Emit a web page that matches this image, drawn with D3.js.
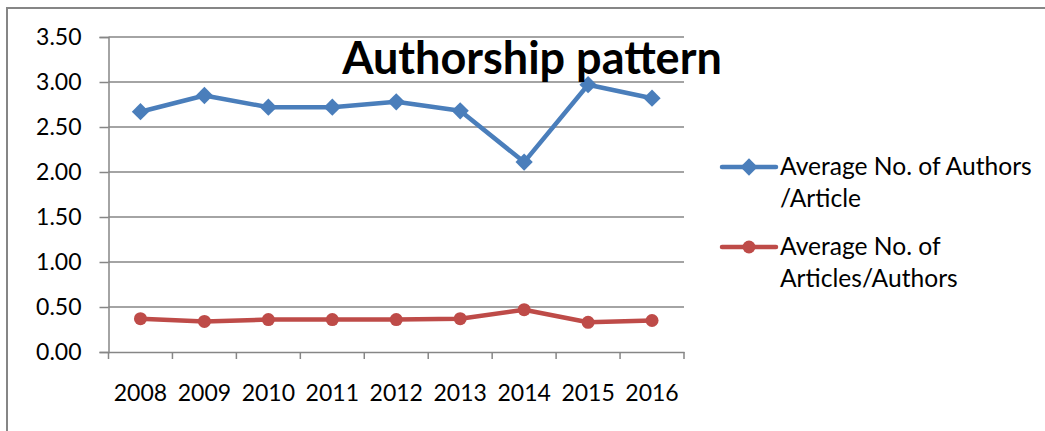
<!DOCTYPE html>
<html><head><meta charset="utf-8">
<script src="https://cdn.jsdelivr.net/npm/d3@7"></script>
<style>body{margin:0;background:#fff}svg{display:block}text{font-family:Lato,"Open Sans",sans-serif}</style>
</head><body>
<svg id="c" width="1045" height="431"></svg>
<script>
const years = ["2008","2009","2010","2011","2012","2013","2014","2015","2016"];
const authorsPerArticle = [2.67, 2.85, 2.72, 2.72, 2.78, 2.68, 2.11, 2.97, 2.82];
const articlesPerAuthor = [0.37, 0.34, 0.36, 0.36, 0.36, 0.37, 0.47, 0.33, 0.35];
const yTicks = [0, 0.5, 1, 1.5, 2, 2.5, 3, 3.5];
const seriesNames = [["Average No. of Authors", "/Article"], ["Average No. of", "Articles/Authors"]];
const title = "Authorship pattern";

const svg = d3.select("#c");
const grey = "#868686", blue = "#4A7EBB", red = "#BE4B48";
const fs = 23, fsLeg = 24.6;

// frame
svg.append("path").attr("d", "M7,431 V8 H1045").attr("fill","none").attr("stroke", grey).attr("stroke-width", 2);

const x = d3.scaleBand().domain(years).range([108.5, 684]);
const y = d3.scaleLinear().domain([0, 3.5]).range([352, 37]);

// gridlines
svg.append("g").selectAll("line").data(yTicks.filter(d => d > 0)).join("line")
  .attr("x1", 108.5).attr("x2", 684).attr("y1", d => y(d)).attr("y2", d => y(d))
  .attr("stroke", grey).attr("stroke-width", 1.5);

// y axis
const ya = svg.append("g").attr("transform", "translate(108.5,0)")
  .call(d3.axisLeft(y).tickValues(yTicks).tickFormat(d3.format(".2f")).tickSize(9).tickPadding(18));
ya.select(".domain").attr("stroke", grey).attr("stroke-width", 1.5);
ya.selectAll(".tick line").attr("stroke", grey).attr("stroke-width", 1.5);
ya.selectAll(".tick text").attr("font-size", fs).attr("fill", "#000").attr("font-family", "Lato");

// x axis
const xa = svg.append("g").attr("transform", "translate(0,352)")
  .call(d3.axisBottom(x).tickSize(0).tickPadding(33));
xa.select(".domain").attr("stroke", grey).attr("stroke-width", 1.5);
xa.selectAll(".tick text").attr("font-size", fs).attr("fill", "#000").attr("font-family", "Lato");
xa.append("g").selectAll("line").data(years.map(d => x(d)).concat([684])).join("line")
  .attr("x1", d => d).attr("x2", d => d).attr("y1", 0).attr("y2", 7)
  .attr("stroke", grey).attr("stroke-width", 1.5);

const cx = d => x(d) + x.bandwidth() / 2;
const line = d3.line().x(d => cx(d[0])).y(d => y(d[1]));
const diamond = d3.symbol().type(d3.symbolDiamond2).size(190);

function drawSeries(vals, color, marker) {
  const pts = years.map((yr, i) => [yr, vals[i]]);
  svg.append("path").datum(pts).attr("d", line).attr("fill", "none")
    .attr("stroke", color).attr("stroke-width", 4.5).attr("stroke-linejoin", "round");
  if (marker === "diamond") {
    svg.append("g").selectAll("path").data(pts).join("path")
      .attr("d", diamond).attr("transform", d => `translate(${cx(d[0])},${y(d[1])})`).attr("fill", color);
  } else {
    svg.append("g").selectAll("circle").data(pts).join("circle")
      .attr("cx", d => cx(d[0])).attr("cy", d => y(d[1])).attr("r", 6.5).attr("fill", color);
  }
}
drawSeries(authorsPerArticle, blue, "diamond");
drawSeries(articlesPerAuthor, red, "circle");

// legend
const leg = [{c: blue, m: "diamond", y: 167, t: seriesNames[0]}, {c: red, m: "circle", y: 247, t: seriesNames[1]}];
leg.forEach(l => {
  svg.append("line").attr("x1", 722).attr("x2", 776).attr("y1", l.y).attr("y2", l.y)
    .attr("stroke", l.c).attr("stroke-width", 4.5).attr("stroke-linecap", "round");
  if (l.m === "diamond") svg.append("path").attr("d", diamond).attr("transform", `translate(749,${l.y})`).attr("fill", l.c);
  else svg.append("circle").attr("cx", 749).attr("cy", l.y).attr("r", 6.5).attr("fill", l.c);
  l.t.forEach((s, i) => svg.append("text").attr("x", 780).attr("y", l.y + 8 + i * 32)
    .attr("font-size", fsLeg).attr("fill", "#000").text(s));
});

// title
svg.append("text").attr("x", 532).attr("y", 74).attr("text-anchor", "middle")
  .attr("font-size", 45).attr("font-weight", "bold").attr("fill", "#000").text(title);
</script>
</body></html>
